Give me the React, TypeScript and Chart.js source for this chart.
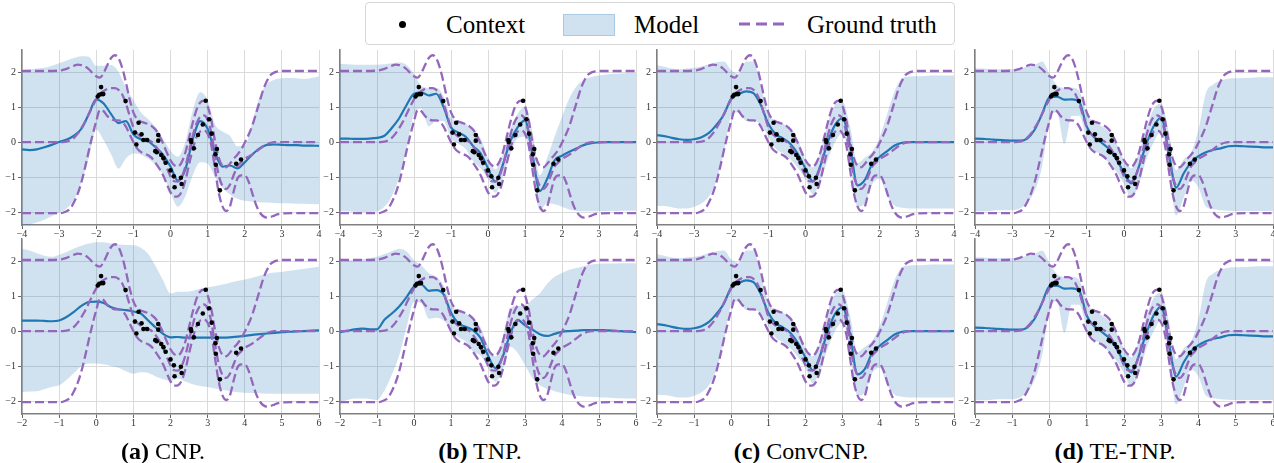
import React, { useEffect, useRef } from "react";
import { Chart, registerables } from "chart.js";

Chart.register(...registerables);

const FONT = "'Liberation Serif', 'Times New Roman', Times, serif";

// ---------- context points (top-row frame) ----------
const contextX = [-1.96, -1.92, -1.87, -1.85, -1.81, -1.21, -0.96, -0.92, -0.86, -0.78, -0.73, -0.63, -0.41, -0.37, -0.33, -0.33, -0.25, -0.19, -0.13, 0.0, 0.09, 0.11, 0.28, 0.3, 0.55, 0.56, 0.63, 0.74, 0.87, 0.95, 1.04, 1.11, 1.25, 1.21, 1.22, 1.33, 1.77, 1.9];
const contextY = [1.3, 1.35, 1.57, 1.37, 1.37, 1.17, 0.27, -0.07, 0.55, 0.22, 0.06, 0.06, -0.26, -0.29, 0.2, 0.04, -0.37, -0.46, -0.59, -0.81, -0.98, -1.29, -1.02, -1.2, 0.06, 0.0, -0.18, 0.2, 0.5, 1.18, 0.65, 0.24, -0.2, -0.35, -0.65, -1.38, -0.62, -0.5];

// ---------- ground truth (top-row frame) ----------
const gtX = [-4, -3.5, -3, -2.9, -2.8, -2.7, -2.6, -2.5, -2.4, -2.3, -2.2, -2.1, -2, -1.9, -1.8, -1.7, -1.6, -1.5, -1.4, -1.3, -1.2, -1.1, -1, -0.9, -0.8, -0.7, -0.6, -0.5, -0.4, -0.3, -0.2, -0.1, 0, 0.1, 0.2, 0.3, 0.4, 0.5, 0.6, 0.7, 0.8, 0.9, 1, 1.1, 1.2, 1.3, 1.4, 1.5, 1.6, 1.7, 1.8, 1.9, 2, 2.1, 2.2, 2.3, 2.4, 2.5, 2.6, 2.7, 2.8, 2.9, 3, 3.5, 4];
const gtUpper = [2.03, 2.03, 2.04, 2.06, 2.09, 2.14, 2.18, 2.21, 2.2, 2.16, 2.08, 1.97, 1.88, 1.84, 1.98, 2.2, 2.4, 2.48, 2.4, 2.12, 1.7, 1.22, 0.85, 0.66, 0.59, 0.55, 0.51, 0.45, 0.35, 0.18, -0.04, -0.3, -0.52, -0.66, -0.7, -0.58, -0.3, 0.12, 0.55, 0.92, 1.13, 1.18, 1.02, 0.62, 0.02, -0.45, -0.68, -0.72, -0.62, -0.48, -0.36, -0.22, -0.02, 0.2, 0.46, 0.8, 1.15, 1.5, 1.75, 1.92, 1.99, 2.02, 2.03, 2.03, 2.03];
const gtMean = [0, 0, 0, 0, 0.01, 0.05, 0.12, 0.24, 0.4, 0.58, 0.8, 1.02, 1.22, 1.38, 1.46, 1.52, 1.54, 1.54, 1.49, 1.36, 1.1, 0.75, 0.42, 0.24, 0.15, 0.1, 0.06, 0.0, -0.12, -0.28, -0.48, -0.74, -0.98, -1.12, -1.13, -1.0, -0.7, -0.26, 0.18, 0.53, 0.72, 0.76, 0.64, 0.26, -0.38, -0.95, -1.26, -1.34, -1.22, -0.95, -0.7, -0.58, -0.48, -0.42, -0.36, -0.28, -0.2, -0.12, -0.06, -0.02, 0, 0, 0, 0, 0];
const gtLower = [-2.03, -2.03, -2.03, -2.02, -1.98, -1.9, -1.72, -1.48, -1.15, -0.72, -0.25, 0.2, 0.6, 0.92, 0.88, 0.74, 0.66, 0.62, 0.62, 0.58, 0.44, 0.22, 0.0, -0.18, -0.28, -0.33, -0.38, -0.46, -0.6, -0.76, -0.95, -1.2, -1.44, -1.56, -1.55, -1.42, -1.1, -0.64, -0.2, 0.14, 0.3, 0.33, 0.24, -0.1, -0.78, -1.45, -1.84, -1.97, -1.84, -1.42, -1.05, -0.95, -0.95, -1.12, -1.45, -1.78, -2.0, -2.12, -2.16, -2.14, -2.1, -2.06, -2.04, -2.03, -2.03];

// ---------- model predictions (top-row frame grid) ----------
const modelX = [-4, -3.8, -3.6, -3.4, -3.2, -3, -2.8, -2.6, -2.4, -2.2, -2, -1.8, -1.6, -1.4, -1.2, -1, -0.8, -0.6, -0.4, -0.2, 0, 0.2, 0.4, 0.6, 0.8, 1, 1.2, 1.4, 1.6, 1.8, 2, 2.2, 2.4, 2.6, 2.8, 3, 3.2, 3.4, 3.6, 3.8, 4];

const cnpTopMean = [-0.21, -0.23, -0.21, -0.15, -0.08, 0.0, 0.07, 0.18, 0.38, 0.8, 1.22, 1.1, 0.8, 0.54, 0.6, 0.22, 0.08, 0.02, -0.15, -0.37, -0.7, -1.1, -0.78, 0.08, 0.6, 0.38, -0.3, -0.7, -0.67, -0.75, -0.58, -0.36, -0.18, -0.08, -0.07, -0.08, -0.09, -0.09, -0.1, -0.1, -0.11];
const cnpTopUpper = [2.05, 2.07, 2.1, 2.12, 2.18, 2.25, 2.33, 2.4, 2.45, 2.44, 2.18, 2.18, 2.2, 2.0, 1.55, 1.2, 0.85, 0.65, 0.42, 0.1, -0.25, -0.42, 0.0, 0.9, 1.42, 1.2, 0.5, 0.3, 0.18, -0.12, -0.1, 0.55, 1.3, 1.66, 1.78, 1.82, 1.83, 1.82, 1.8, 1.83, 1.88];
const cnpTopLower = [-2.42, -2.36, -2.3, -2.22, -2.12, -2.02, -1.9, -1.65, -1.15, -0.45, 0.35, 0.05, -0.35, -0.76, -0.47, -0.33, -0.36, -0.48, -0.66, -0.95, -1.45, -1.85, -1.55, -0.95, -0.58, -0.62, -1.0, -1.3, -1.5, -1.62, -1.68, -1.7, -1.72, -1.73, -1.74, -1.75, -1.75, -1.76, -1.76, -1.77, -1.78];

const tnpTopMean = [0.1, 0.1, 0.09, 0.09, 0.1, 0.12, 0.18, 0.4, 0.68, 1.06, 1.38, 1.42, 1.33, 1.38, 1.0, 0.42, 0.27, 0.15, -0.12, -0.32, -0.75, -1.13, -0.65, 0.02, 0.42, 0.62, -0.35, -1.4, -1.05, -0.52, -0.39, -0.28, -0.18, -0.08, -0.03, -0.01, 0.0, 0.0, 0.0, 0.0, 0.0];
const tnpTopUpper = [2.24, 2.22, 2.21, 2.21, 2.21, 2.21, 2.22, 2.25, 2.27, 2.2, 1.95, 1.6, 1.55, 1.55, 1.3, 0.7, 0.6, 0.52, 0.3, 0.1, -0.45, -0.78, -0.35, 0.35, 0.8, 1.0, 0.3, -0.95, -0.45, 0.15, 0.72, 1.25, 1.6, 1.78, 1.86, 1.9, 1.93, 1.95, 1.96, 1.97, 1.97];
const tnpTopLower = [-1.98, -1.98, -1.99, -2.0, -2.0, -1.98, -1.85, -1.55, -1.0, -0.2, 0.8, 0.95, 0.45, 0.6, 0.6, 0.1, -0.05, -0.2, -0.55, -0.75, -1.05, -1.45, -1.0, -0.35, 0.1, 0.15, -0.85, -1.95, -1.75, -1.78, -1.85, -1.93, -1.97, -1.98, -1.98, -1.98, -1.97, -1.97, -1.96, -1.96, -1.96];

const convMean = [0.2, 0.17, 0.12, 0.08, 0.06, 0.08, 0.14, 0.26, 0.49, 0.78, 1.25, 1.37, 1.45, 1.4, 1.05, 0.52, 0.22, 0.1, -0.06, -0.35, -0.76, -1.12, -0.68, 0.0, 0.5, 0.68, -0.1, -1.24, -1.08, -0.62, -0.42, -0.26, -0.1, -0.02, 0.0, 0.0, 0.0, 0.0, 0.0, 0.0, 0.0];
const convUpper = [2.2, 2.15, 2.1, 2.08, 2.1, 2.12, 2.16, 2.22, 2.28, 2.3, 2.05, 1.95, 2.3, 2.3, 1.6, 0.8, 0.62, 0.52, 0.35, 0.05, -0.5, -0.72, -0.28, 0.55, 1.05, 1.15, 0.45, -0.6, -0.45, -0.28, 0.15, 0.8, 1.45, 1.82, 1.87, 1.88, 1.89, 1.9, 1.9, 1.9, 1.9];
const convLower = [-1.82, -1.83, -1.86, -1.9, -1.9, -1.85, -1.75, -1.55, -1.1, -0.3, 0.75, 0.85, 0.6, 0.6, 0.5, 0.15, -0.2, -0.32, -0.5, -0.75, -1.05, -1.5, -1.1, -0.5, 0.0, 0.25, -0.6, -1.85, -1.75, -1.2, -1.05, -1.55, -1.82, -1.88, -1.9, -1.9, -1.9, -1.9, -1.9, -1.9, -1.9];

const teMean = [0.1, 0.09, 0.08, 0.06, 0.05, 0.04, 0.04, 0.1, 0.35, 0.8, 1.28, 1.3, 1.21, 1.22, 1.15, 0.44, 0.14, -0.02, -0.2, -0.5, -0.88, -1.18, -0.7, -0.06, 0.46, 0.7, -0.3, -1.3, -0.9, -0.58, -0.4, -0.29, -0.22, -0.18, -0.12, -0.11, -0.12, -0.13, -0.14, -0.15, -0.15];
const teUpper = [2.11, 2.1, 2.09, 2.08, 2.08, 2.08, 2.1, 2.15, 2.2, 2.3, 1.95, 1.62, 1.55, 1.55, 1.45, 0.8, 0.58, 0.45, 0.28, -0.05, -0.5, -0.75, -0.3, 0.4, 0.95, 1.1, 0.3, -0.8, -0.5, -0.3, 0.35, 1.4, 1.65, 1.76, 1.81, 1.82, 1.83, 1.84, 1.85, 1.85, 1.85];
const teLower = [-1.98, -1.98, -1.97, -1.95, -1.95, -1.95, -1.9, -1.75, -1.4, -0.7, 0.6, 0.85, -0.05, 0.75, 0.75, 0.1, -0.25, -0.35, -0.62, -0.85, -1.2, -1.6, -1.2, -0.5, 0.0, 0.3, -0.65, -2.1, -1.6, -1.1, -1.3, -1.85, -1.92, -1.95, -1.96, -1.97, -1.97, -1.97, -1.97, -1.97, -1.97];

const cnpBotMean = [0.3, 0.3, 0.3, 0.29, 0.28, 0.3, 0.4, 0.55, 0.72, 0.83, 0.84, 0.8, 0.68, 0.62, 0.6, 0.56, 0.5, 0.3, 0.1, -0.08, -0.18, -0.17, -0.19, -0.19, -0.19, -0.19, -0.19, -0.19, -0.18, -0.16, -0.14, -0.11, -0.09, -0.07, -0.05, -0.03, -0.02, -0.01, 0.0, 0.01, 0.02];
const cnpBotUpper = [2.35, 2.3, 2.22, 2.15, 2.12, 2.18, 2.26, 2.36, 2.44, 2.5, 2.54, 2.54, 2.5, 2.47, 2.46, 2.45, 2.38, 2.2, 1.85, 1.45, 1.07, 1.12, 1.12, 1.15, 1.21, 1.25, 1.29, 1.33, 1.38, 1.43, 1.47, 1.52, 1.58, 1.64, 1.67, 1.69, 1.72, 1.75, 1.78, 1.81, 1.84];
const cnpBotLower = [-1.74, -1.73, -1.72, -1.66, -1.6, -1.55, -1.4, -1.2, -1.0, -0.93, -0.93, -0.95, -1.0, -1.05, -1.15, -1.22, -1.18, -1.2, -1.3, -1.38, -1.42, -1.36, -1.44, -1.52, -1.57, -1.6, -1.64, -1.68, -1.72, -1.75, -1.76, -1.77, -1.78, -1.79, -1.79, -1.79, -1.79, -1.79, -1.79, -1.79, -1.79];

const tnpBotMean = [-0.03, 0.01, 0.05, 0.07, 0.05, 0.05, 0.32, 0.5, 0.7, 0.97, 1.27, 1.33, 1.15, 1.17, 1.05, 0.52, 0.22, 0.12, 0.02, -0.2, -0.7, -1.06, -0.72, -0.08, 0.32, 0.16, 0.04, -0.09, -0.14, -0.08, -0.02, 0.0, 0.01, 0.03, 0.03, 0.03, 0.02, 0.01, 0.0, -0.02, -0.03];
const tnpBotUpper = [2.07, 2.03, 2.02, 2.05, 2.08, 2.12, 2.2, 2.28, 2.35, 2.27, 2.02, 1.88, 1.65, 1.55, 1.3, 0.75, 0.58, 0.5, 0.32, 0.1, -0.42, -0.72, -0.2, 0.65, 0.72, 0.72, 0.9, 1.07, 1.35, 1.55, 1.66, 1.75, 1.8, 1.86, 1.9, 1.92, 1.93, 1.93, 1.94, 1.94, 1.94];
const tnpBotLower = [-2.03, -1.97, -1.93, -1.93, -1.94, -1.97, -1.7, -1.25, -0.7, 0.11, 0.83, 0.8, 0.35, 0.38, 0.3, 0.05, -0.18, -0.3, -0.6, -0.7, -1.05, -1.45, -1.1, -0.45, -0.62, -0.98, -1.35, -1.55, -1.65, -1.72, -1.77, -1.82, -1.85, -1.87, -1.88, -1.89, -1.9, -1.91, -1.92, -1.93, -1.93];

// ---------- axes ----------
const topXTicks = [-4, -3, -2, -1, 0, 1, 2, 3, 4];
const bottomXTicks = [-2, -1, 0, 1, 2, 3, 4, 5, 6];
const yTicks = [-2, -1, 0, 1, 2];
const yMin = -2.37;
const yMax = 2.63;
const bottomRowShift = 2;

const captions = [
  { tag: "(a)", name: "CNP." },
  { tag: "(b)", name: "TNP." },
  { tag: "(c)", name: "ConvCNP." },
  { tag: "(d)", name: "TE-TNP." },
];

// ---------- layout ----------
const COL_L = [22, 340, 657, 975];
const COL_R = [319, 636, 954, 1273];
const ROW_T = [50, 239];
const ROW_B = [225, 414];
const CAPTION_CX = [163, 480, 801, 1115];
const Y_AXIS_W = 30;
const X_AXIS_H = 22;
const PAD_T = 10;
const PAD_R = 10;

const BLUE = "#1f77b4";
const PURPLE = "#9467bd";
const BAND = "rgba(31,119,180,0.21)";
const GRID = "#dadada";

const fmt = (v: number) => (v < 0 ? "\u2212" + Math.abs(v) : String(v));

type PanelProps = {
  col: number;
  row: number;
  mean: number[];
  upper: number[];
  lower: number[];
};

function Panel({ col, row, mean, upper, lower }: PanelProps) {
  const ref = useRef<HTMLCanvasElement | null>(null);
  const L = COL_L[col];
  const R = COL_R[col];
  const T = ROW_T[row];
  const B = ROW_B[row];
  const width = Y_AXIS_W + (R - L) + PAD_R;
  const height = PAD_T + (B - T) + X_AXIS_H;

  useEffect(() => {
    if (!ref.current) return;
    const shift = row === 1 ? bottomRowShift : 0;
    const xTicks = row === 1 ? bottomXTicks : topXTicks;
    const pts = (xs: number[], ys: number[]) => xs.map((x, i) => ({ x: x + shift, y: ys[i] }));
    const gtStyle = {
      borderColor: PURPLE,
      borderWidth: 2.3,
      borderDash: [9, 4],
      pointRadius: 0,
      fill: false,
      cubicInterpolationMode: "monotone" as const,
      order: 3,
    };
    const chart = new Chart(ref.current, {
      type: "line",
      data: {
        datasets: [
          {
            data: pts(modelX, upper),
            borderColor: "transparent",
            borderWidth: 0,
            backgroundColor: BAND,
            pointRadius: 0,
            fill: "+1",
            cubicInterpolationMode: "monotone",
            order: 10,
          },
          {
            data: pts(modelX, lower),
            borderColor: "transparent",
            borderWidth: 0,
            pointRadius: 0,
            fill: false,
            cubicInterpolationMode: "monotone",
            order: 10,
          },
          {
            data: pts(modelX, mean),
            borderColor: BLUE,
            borderWidth: 2.2,
            pointRadius: 0,
            fill: false,
            cubicInterpolationMode: "monotone",
            order: 5,
          },
          { data: pts(gtX, gtUpper), ...gtStyle },
          { data: pts(gtX, gtMean), ...gtStyle },
          { data: pts(gtX, gtLower), ...gtStyle },
          {
            data: pts(contextX, contextY),
            showLine: false,
            pointRadius: 2.3,
            pointBackgroundColor: "#000",
            pointBorderWidth: 0,
            borderColor: "#000",
            order: 1,
          },
        ],
      } as any,
      options: {
        responsive: false,
        animation: false,
        devicePixelRatio: 1,
        events: [],
        layout: { padding: { left: 0, right: PAD_R, top: PAD_T, bottom: 0 } },
        plugins: { legend: { display: false }, tooltip: { enabled: false } },
        scales: {
          x: {
            type: "linear",
            min: xTicks[0],
            max: xTicks[xTicks.length - 1],
            afterBuildTicks: (s: any) => {
              s.ticks = xTicks.map((v) => ({ value: v }));
            },
            afterFit: (s: any) => {
              s.height = X_AXIS_H;
            },
            ticks: {
              font: { family: FONT, size: 10 },
              color: "#333",
              padding: -1,
              maxRotation: 0,
              autoSkip: false,
              callback: (v: any) => fmt(Number(v)),
            },
            grid: { color: GRID, lineWidth: 1, tickLength: 4, tickColor: "#666", tickWidth: 1 },
            border: { display: true, color: "#808080", width: 1.5 },
          },
          y: {
            type: "linear",
            min: yMin,
            max: yMax,
            afterBuildTicks: (s: any) => {
              s.ticks = yTicks.map((v) => ({ value: v }));
            },
            afterFit: (s: any) => {
              s.width = Y_AXIS_W;
            },
            ticks: {
              font: { family: FONT, size: 10 },
              color: "#333",
              padding: 2,
              autoSkip: false,
              callback: (v: any) => fmt(Number(v)),
            },
            grid: { color: GRID, lineWidth: 1, tickLength: 4, tickColor: "#666", tickWidth: 1 },
            border: { display: true, color: "#808080", width: 1.5 },
          },
        },
      } as any,
    });
    return () => chart.destroy();
  }, []);

  return (
    <canvas
      ref={ref}
      width={width}
      height={height}
      style={{ position: "absolute", left: L - Y_AXIS_W, top: T - PAD_T, width, height }}
    />
  );
}

const panels: PanelProps[] = [
  { col: 0, row: 0, mean: cnpTopMean, upper: cnpTopUpper, lower: cnpTopLower },
  { col: 1, row: 0, mean: tnpTopMean, upper: tnpTopUpper, lower: tnpTopLower },
  { col: 2, row: 0, mean: convMean, upper: convUpper, lower: convLower },
  { col: 3, row: 0, mean: teMean, upper: teUpper, lower: teLower },
  { col: 0, row: 1, mean: cnpBotMean, upper: cnpBotUpper, lower: cnpBotLower },
  { col: 1, row: 1, mean: tnpBotMean, upper: tnpBotUpper, lower: tnpBotLower },
  { col: 2, row: 1, mean: convMean, upper: convUpper, lower: convLower },
  { col: 3, row: 1, mean: teMean, upper: teUpper, lower: teLower },
];

function Legend() {
  const fs = 25;
  const textTop = 33 - 0.8375 * fs;
  const txt = (left: number, s: string) => (
    <div
      style={{
        position: "absolute",
        left,
        top: textTop,
        fontFamily: FONT,
        fontSize: fs,
        lineHeight: `${fs}px`,
        color: "#000",
        whiteSpace: "nowrap",
      }}
    >
      {s}
    </div>
  );
  return (
    <>
      <div
        style={{
          position: "absolute",
          left: 365,
          top: 2,
          width: 590,
          height: 43,
          border: "1px solid #d6d6d6",
          borderRadius: 4,
          boxSizing: "border-box",
          background: "#fff",
        }}
      />
      <div
        style={{
          position: "absolute",
          left: 398.5,
          top: 20.5,
          width: 7,
          height: 7,
          borderRadius: "50%",
          background: "#000",
        }}
      />
      {txt(446, "Context")}
      <div
        style={{
          position: "absolute",
          left: 563,
          top: 14,
          width: 52,
          height: 22,
          background: BAND,
          border: "1px solid rgba(31,119,180,0.22)",
          boxSizing: "border-box",
        }}
      />
      {txt(634, "Model")}
      <svg style={{ position: "absolute", left: 738, top: 18 }} width={52} height={12}>
        <line x1={1} y1={6} x2={51} y2={6} stroke={PURPLE} strokeWidth={3} strokeDasharray="11 6" />
      </svg>
      {txt(807, "Ground truth")}
    </>
  );
}

export default function App() {
  const fs = 24;
  return (
    <div
      style={{
        position: "fixed",
        left: 0,
        top: 0,
        width: 1274,
        height: 463,
        overflow: "hidden",
        background: "#fff",
      }}
    >
      {panels.map((p, i) => (
        <Panel key={i} {...p} />
      ))}
      <Legend />
      {captions.map((c, i) => (
        <div
          key={i}
          style={{
            position: "absolute",
            left: CAPTION_CX[i] - 150,
            width: 300,
            top: 459 - 0.8375 * fs,
            textAlign: "center",
            fontFamily: FONT,
            fontSize: fs,
            lineHeight: `${fs}px`,
            color: "#000",
            whiteSpace: "nowrap",
          }}
        >
          <b>{c.tag}</b> {c.name}
        </div>
      ))}
    </div>
  );
}
